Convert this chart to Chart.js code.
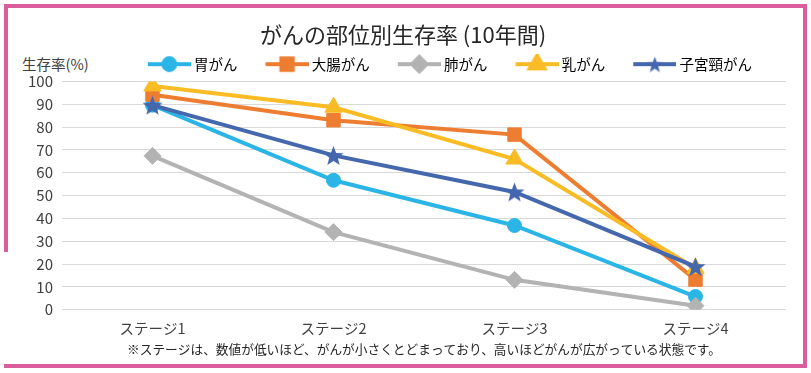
<!DOCTYPE html>
<html lang="ja">
<head>
<meta charset="UTF-8" />
<title>がんの部位別生存率 (10年間)</title>
<script src="https://cdn.jsdelivr.net/npm/chart.js"></script>
<style>
  html, body { margin: 0; padding: 0; background: #fff; }
  body {
    width: 811px; height: 373px; position: relative; overflow: hidden;
    font-family: "Noto Sans CJK JP", "Noto Sans", sans-serif;
  }
  /* ピンクの枠 */
  .frame {
    position: absolute; left: 4px; top: 4px; width: 799px; height: 356px;
    border: 4px solid #d95f9c; border-left: none;
  }
  .frame-left {
    position: absolute; left: 4px; top: 4px; width: 4px; height: 248px; background: #d95f9c;
  }
  #yTitle {
    position: absolute; left: 22px; top: 55px; font-size: 14.5px; line-height: 18px; color: #404040;
  }
  #chartBox { position: absolute; left: 0; top: 0; width: 811px; height: 373px; }
</style>
</head>
<body>
  <div class="frame"></div>
  <div class="frame-left"></div>
  <div id="yTitle">生存率(%)</div>
  <div id="chartBox"><canvas id="survival"></canvas></div>

<script>
  // --- データ ---
  const stages     = ['ステージ1', 'ステージ2', 'ステージ3', 'ステージ4'];
  const stomach    = [89.6, 56.7, 36.9, 5.8];   // 胃がん
  const colorectal = [94.2, 83.0, 76.7, 13.2];  // 大腸がん
  const lung       = [67.4, 34.0, 13.1, 1.8];   // 肺がん
  const breast     = [98.0, 88.7, 66.0, 18.2];  // 乳がん
  const cervix     = [89.6, 67.6, 51.6, 18.9];  // 子宮頸がん
  const seriesNames = ['胃がん', '大腸がん', '肺がん', '乳がん', '子宮頸がん'];
  const footnote = '※ステージは、数値が低いほど、がんが小さくとどまっており、高いほどがんが広がっている状態です。';

  const FONT = '"Noto Sans CJK JP", "Noto Sans", sans-serif';

  // 塗りつぶしの星マーカー
  function makeStar(color, size) {
    const c = document.createElement('canvas');
    c.width = c.height = size;
    const g = c.getContext('2d');
    const cx = size / 2, cy = size / 2 + 1, R = size / 2, r = R * 0.42;
    g.beginPath();
    for (let k = 0; k < 10; k++) {
      const a = -Math.PI / 2 + k * Math.PI / 5;
      const rad = k % 2 ? r : R;
      g.lineTo(cx + rad * Math.cos(a), cy + rad * Math.sin(a));
    }
    g.closePath();
    g.fillStyle = color;
    g.fill();
    return c;
  }

  const colors = ['#2bb5e6', '#ed7d31', '#b3b3b3', '#f9bc25', '#4467ad'];
  const styles = ['circle', 'rect', 'rectRot', 'triangle', makeStar(colors[4], 21)];
  const legendStyles = ['circle', 'rect', 'rectRot', 'triangle', makeStar(colors[4], 17)];
  const radii  = [7, 9.5, 8.5, 10, 10];
  const values = [stomach, colorectal, lung, breast, cervix];

  const BOX_W = 62;   // 凡例ボックス幅（アイコン＋間隔）
  // 凡例用アイコン（線＋マーカー）、右寄せで描く
  function legendIcon(i) {
    const c = document.createElement('canvas');
    c.width = BOX_W + 8; c.height = 20;
    const g = c.getContext('2d');
    const x0 = c.width - 43, cx = x0 + 21.5;
    g.strokeStyle = colors[i];
    g.lineWidth = 4;
    g.beginPath(); g.moveTo(x0, 10); g.lineTo(c.width, 10); g.stroke();
    g.fillStyle = colors[i];
    Chart.helpers.drawPoint(g, { pointStyle: legendStyles[i], radius: radii[i] * 0.85, borderWidth: 1, rotation: 0 }, cx, 10);
    return c;
  }

  const datasets = seriesNames.map((name, i) => ({
    label: name,
    data: values[i],
    borderColor: colors[i],
    backgroundColor: colors[i],
    borderWidth: 4,
    pointStyle: styles[i],
    pointRadius: radii[i],
    pointBorderWidth: 1,
    tension: 0,
    order: seriesNames.length - i
  }));

  // 凡例を少し左へ寄せる
  const legendShift = {
    id: 'legendShift',
    afterLayout(chart) { chart.legend.right -= 29; }
  };

  new Chart(document.getElementById('survival'), {
    type: 'line',
    data: { labels: stages, datasets: datasets },
    plugins: [legendShift],
    options: {
      responsive: true,
      maintainAspectRatio: false,
      animation: false,
      layout: { padding: { top: 10, left: 20, right: 25, bottom: 16 } },
      scales: {
        x: {
          offset: true,
          grid: { display: false, drawTicks: false },
          border: { display: false },
          ticks: { color: '#404040', font: { family: FONT, size: 14.5 }, padding: 10 },
          afterFit: (s) => { s.height = 32; }
        },
        y: {
          min: 0, max: 100,
          grid: { color: '#d9d9d9', drawTicks: false },
          border: { display: false },
          ticks: { stepSize: 10, autoSkip: false, color: '#404040', font: { family: FONT, size: 15 }, padding: 9 },
          afterFit: (s) => { s.width = 42; }
        }
      },
      plugins: {
        tooltip: { enabled: false },
        title: {
          display: true,
          text: 'がんの部位別生存率 (10年間)',
          color: '#262626',
          font: { family: FONT, size: 22, weight: 'normal' },
          padding: { top: 11, bottom: 4.5 }
        },
        subtitle: {
          display: true,
          position: 'bottom',
          fullSize: false,
          text: footnote,
          color: '#262626',
          font: { family: FONT, size: 12.7 },
          padding: 0
        },
        legend: {
          align: 'end',
          labels: {
            usePointStyle: true,
            pointStyleWidth: BOX_W,
            padding: 5,
            color: '#404040',
            font: { family: FONT, size: 14.5 },
            generateLabels: (chart) => chart.data.datasets.map((ds, i) => ({
              text: ds.label,
              fillStyle: ds.backgroundColor,
              strokeStyle: ds.borderColor,
              lineWidth: 0,
              pointStyle: legendIcon(i),
              hidden: !chart.isDatasetVisible(i),
              datasetIndex: i
            }))
          }
        }
      }
    }
  });
</script>
</body>
</html>
